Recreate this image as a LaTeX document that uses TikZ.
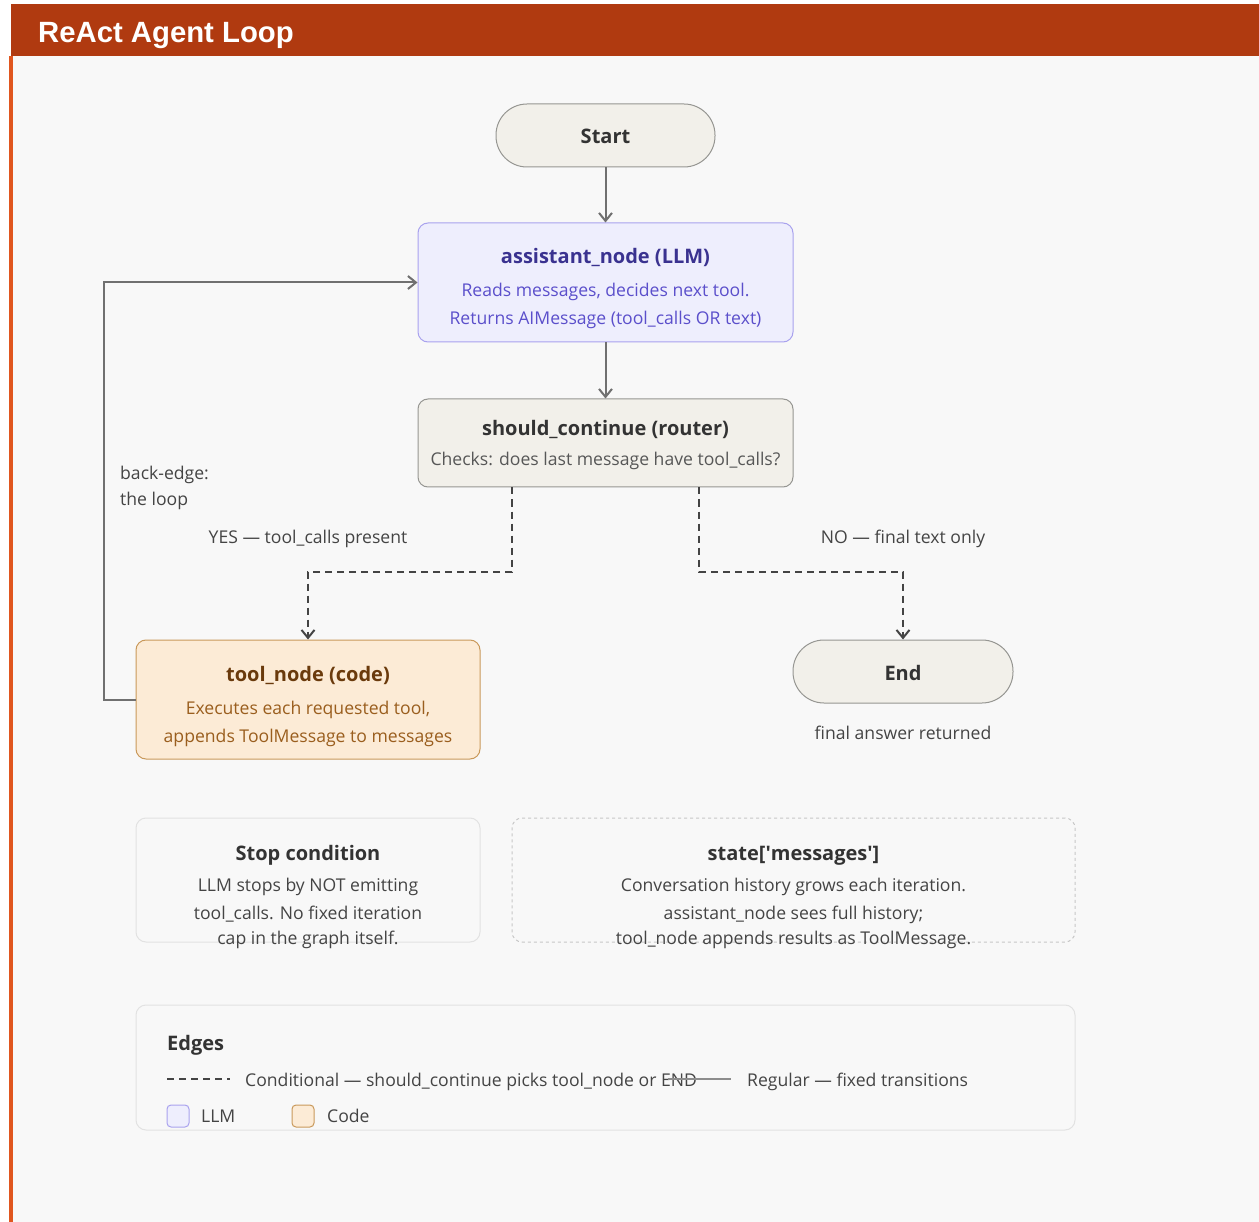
\documentclass[tikz,border=0pt]{standalone}
\usepackage{fontspec}
\setmainfont{Open Sans}
\newfontfamily\headfont{Liberation Sans}
\usetikzlibrary{arrows.meta}
\definecolor{barcol}{RGB}{176,58,16}
\definecolor{stripcol}{RGB}{224,86,31}
\definecolor{bgcol}{RGB}{248,248,248}
\definecolor{pillfill}{RGB}{242,240,234}
\definecolor{pillline}{RGB}{150,150,146}
\definecolor{llmfill}{RGB}{238,238,253}
\definecolor{llmline}{RGB}{169,162,238}
\definecolor{llmhead}{RGB}{58,50,144}
\definecolor{llmtext}{RGB}{91,79,203}
\definecolor{codefill}{RGB}{252,235,214}
\definecolor{codeline}{RGB}{201,153,91}
\definecolor{codehead}{RGB}{106,58,12}
\definecolor{codetext}{RGB}{154,94,30}
\definecolor{edgecol}{RGB}{112,112,112}
\definecolor{condcol}{RGB}{68,68,68}
\definecolor{labelcol}{RGB}{68,68,68}
\definecolor{darktext}{RGB}{51,51,51}
\definecolor{panelline}{RGB}{226,226,226}

\begin{document}
\begin{tikzpicture}[x=1pt, y=-1pt,
  box/.style={draw, rounded corners=10pt, inner sep=0pt, line width=1pt},
  pill/.style={box, rounded corners=31pt, fill=pillfill, draw=pillline, minimum width=219pt, minimum height=63pt},
  llmbox/.style={box, fill=llmfill, draw=llmline, minimum width=375pt, minimum height=119pt},
  routerbox/.style={box, fill=pillfill, draw=pillline, minimum width=375pt, minimum height=88pt},
  codebox/.style={box, fill=codefill, draw=codeline, minimum width=344pt, minimum height=119pt},
  panel/.style={box, fill=bgcol, draw=panelline, minimum height=124pt},
  txt/.style={anchor=base, inner sep=0pt, font=\fontsize{17.6}{20}\selectfont, text=labelcol},
  head/.style={anchor=base, inner sep=0pt, font=\fontsize{20}{24}\selectfont\bfseries, text=darktext},
  flow/.style={draw=edgecol, line width=2pt, -{Straight Barb[length=8pt,width=13pt]}},
  cond/.style={draw=condcol, line width=2pt, dash pattern=on 7pt off 5pt, -{Straight Barb[length=8pt,width=13pt]}},
  swatch/.style={draw, rounded corners=4pt, line width=1pt, minimum size=22pt, inner sep=0pt},
]
\useasboundingbox (0,0) rectangle (1259,1222);

% page frame
\fill[white] (0,0) rectangle (1259,1222);
\fill[bgcol] (13,56) rectangle (1259,1222);
\fill[stripcol] (9,56) rectangle (13,1222);
\fill[barcol] (11,4) rectangle (1259,56);
\node[anchor=base west, inner sep=0pt, text=white, font=\headfont\fontsize{29.3}{32}\selectfont\bfseries] (title) at (38,43) {ReAct Agent Loop};

% main nodes
\node[pill] (start) at (605.5,135.5) {};
\node[head] at (605.5,144) {Start};

\node[llmbox] (assistant) at (605.5,282.5) {};
\node[head, text=llmhead] at (605.5,264) {assistant\_node (LLM)};
\node[txt, text=llmtext] at (605.5,297) {Reads messages, decides next tool.};
\node[txt, text=llmtext] at (605.5,325) {Returns AIMessage (tool\_calls OR text)};

\node[routerbox] (router) at (605.5,443) {};
\node[head] at (605.5,436) {should\_continue (router)};
\node[txt, text=labelcol!90!white] at (605.5,466) {Checks: does last message have tool\_calls?};

\node[codebox] (tool) at (308,699.5) {};
\node[head, text=codehead] at (308,681) {tool\_node (code)};
\node[txt, text=codetext] at (308,714) {Executes each requested tool,};
\node[txt, text=codetext] at (308,742) {appends ToolMessage to messages};

\node[pill, minimum width=220pt] (end) at (903,671.5) {};
\node[head] at (903,680) {End};
\node[txt] (endnote) at (903,739) {final answer returned};

% edges
\draw[flow] (start) -- (assistant);
\draw[flow] (assistant) -- (router);
\draw[cond] ([xshift=-93.5pt]router.south) -- ++(0,84) -| (tool.north);
\draw[cond] ([xshift=93.5pt]router.south) -- ++(0,84) -| (end.north);
\draw[flow] (tool.west) -- ++(-32,0) |- (assistant.west);

\node[txt] (yes) at (308,543) {YES — tool\_calls present};
\node[txt] (no) at (903,543) {NO — final text only};
\node[txt, anchor=base west] (back1) at (120,480) {back-edge:};
\node[txt, anchor=base west] (back2) at (120,505) {the loop};

% notes
\node[panel, minimum width=344pt] (stop) at (308,880) {};
\node[head] at (308,860) {Stop condition};
\node[txt] at (308,891) {LLM stops by NOT emitting};
\node[txt] at (308,919) {tool\_calls. No fixed iteration};
\node[txt] at (308,944) {cap in the graph itself.};

\node[panel, minimum width=563pt, draw=black!22, dashed] (state) at (793.5,880) {};
\node[head] at (793.5,860) {state[\textquotesingle messages\textquotesingle]};
\node[txt] at (793.5,891) {Conversation history grows each iteration.};
\node[txt] at (793.5,919) {assistant\_node sees full history;};
\node[txt] at (793.5,944) {tool\_node appends results as ToolMessage.};

% legend
\node[panel, minimum width=939pt, minimum height=125pt] (legend) at (605.5,1067.5) {};
\node[head, anchor=base west] (edgeshead) at (167,1050) {Edges};
\coordinate (c1) at (167,1079);
\coordinate (c2) at (230,1079);
\draw[draw=condcol, line width=2pt, dash pattern=on 7pt off 5pt] (c1) -- (c2);
\node[txt, anchor=base west] (condtxt) at (245,1086) {Conditional — should\_continue picks tool\_node or END};
\coordinate (r1) at (668,1079);
\coordinate (r2) at (731,1079);
\draw[draw=edgecol!80!white, line width=2pt] (r1) -- (r2);
\node[txt, anchor=base west] (regtxt) at (747,1086) {Regular — fixed transitions};
\node[swatch, fill=llmfill, draw=llmline] (llmkey) at (178,1116) {};
\node[txt, anchor=base west] at (201,1122) {LLM};
\node[swatch, fill=codefill, draw=codeline] (codekey) at (303,1116) {};
\node[txt, anchor=base west] at (327,1122) {Code};
\end{tikzpicture}
\end{document}
